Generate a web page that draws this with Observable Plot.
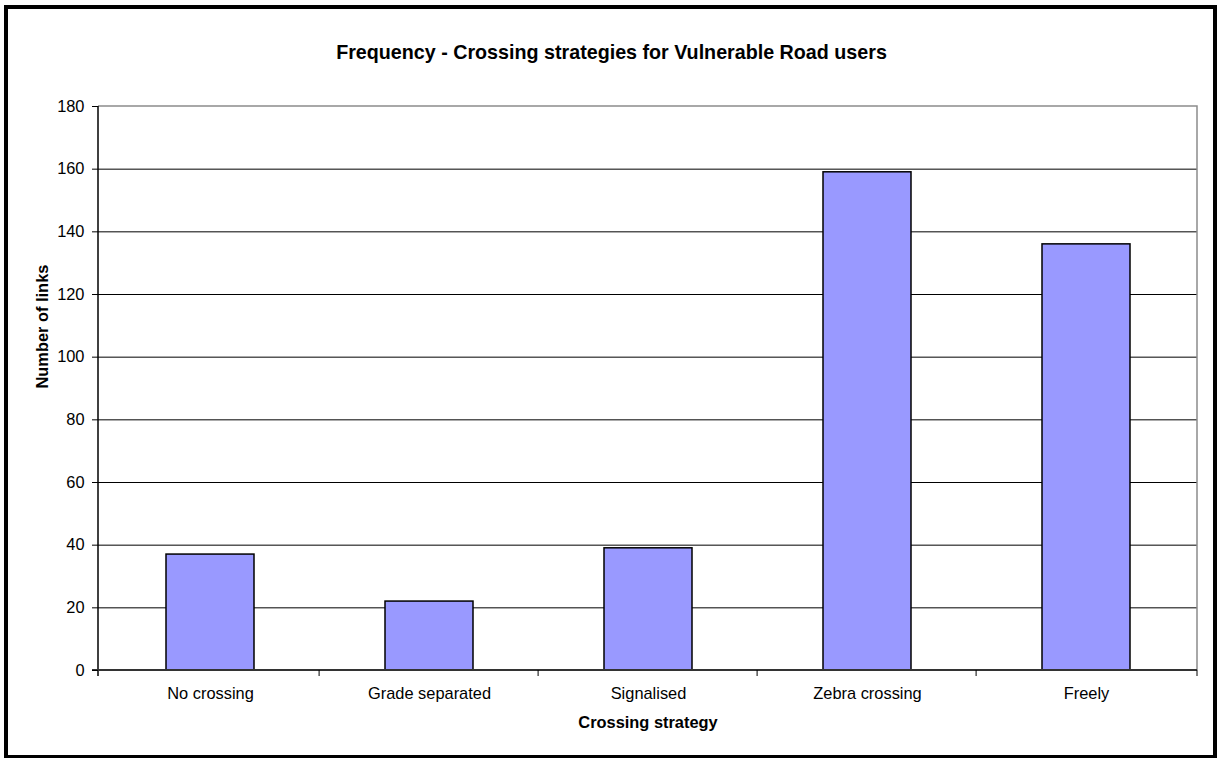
<!DOCTYPE html>
<html>
<head>
<meta charset="utf-8">
<script src="https://cdn.jsdelivr.net/npm/d3@7"></script>
<script src="https://cdn.jsdelivr.net/npm/@observablehq/plot@0.6"></script>
<style>
  html, body { margin: 0; padding: 0; background: #fff; overflow: hidden; }
  #wrap { position: relative; width: 1223px; height: 758px; }
  #frame { position: absolute; left: 4px; top: 5px; width: 1213px; height: 754px;
           border: 4px solid #000; box-sizing: border-box; pointer-events: none; }
  svg { position: absolute; left: 0; top: 0; }
</style>
</head>
<body>
<div id="wrap"><div id="frame"></div></div>
<script>
const categories = ["No crossing", "Grade separated", "Signalised", "Zebra crossing", "Freely"];
const counts = [37, 22, 39, 159, 136];
const yTicks = [0, 20, 40, 60, 80, 100, 120, 140, 160, 180];
const gridTicks = [20, 40, 60, 80, 100, 120, 140, 160];
const title = "Frequency - Crossing strategies for Vulnerable Road users";
const xTitle = "Crossing strategy";
const yTitle = "Number of links";

const data = categories.map((c, i) => ({category: c, count: counts[i]}));

const W = 1223, H = 758, mL = 98, mR = 26, mT = 106, mB = 88;
const font = "Liberation Sans, Arial, sans-serif";

// axis lines, plot-area border and category-boundary ticks, all from the scales
function axisLines(index, scales, values, dims) {
  const g = d3.create("svg:g").attr("fill", "none");
  const x0 = dims.marginLeft, x1 = dims.width - dims.marginRight;
  const yb = scales.y(0), yt = scales.y(180);
  const step = (x1 - x0) / categories.length;
  g.append("path").attr("d", `M${x0},${yt}H${x1}V${yb}`).attr("stroke", "#8c8c8c").attr("stroke-width", 1.5);
  g.append("line").attr("x1", x0).attr("x2", x0).attr("y1", yt).attr("y2", yb + 6).attr("stroke", "#000").attr("stroke-width", 1.5);
  g.append("line").attr("x1", x0 - 6).attr("x2", x1).attr("y1", yb).attr("y2", yb).attr("stroke", "#333").attr("stroke-width", 2);
  const xs = categories.map(c => scales.x(c) - (step - scales.x.bandwidth()) / 2);
  xs.push(x1);
  xs.slice(1).forEach(x => {
    g.append("line").attr("x1", x).attr("x2", x).attr("y1", yb).attr("y2", yb + 6).attr("stroke", "#000");
  });
  return g.node();
}

const chart = Plot.plot({
  width: W, height: H,
  marginLeft: mL, marginRight: mR, marginTop: mT, marginBottom: mB,
  style: {fontFamily: font, fontSize: "16.4px", color: "#000", background: "transparent"},
  x: {domain: categories, paddingInner: 0.6, paddingOuter: 0.3, label: null},
  y: {domain: [0, 180], label: null},
  marks: [
    Plot.ruleY(gridTicks, {stroke: "#000", strokeWidth: 1}),
    Plot.barY(data, {x: "category", y: "count", fill: "#9999FF", stroke: "#000", strokeWidth: 1.5}),
    axisLines,
    Plot.axisY({ticks: yTicks, tickSize: 6, tickPadding: 8, label: null, fontSize: 16.4}),
    Plot.axisX({tickSize: 0, tickPadding: 17, label: null, fontSize: 16.4}),
    Plot.text([title], {frameAnchor: "top", dy: -62, dx: -36.5, fontWeight: "bold", fontSize: 19.7, text: d => d}),
    Plot.text([xTitle], {frameAnchor: "bottom", dy: 57, fontWeight: "bold", fontSize: 16.4, text: d => d}),
    Plot.text([yTitle], {frameAnchor: "left", dx: -56, rotate: -90, fontWeight: "bold", fontSize: 16.4, text: d => d})
  ]
});
document.getElementById("wrap").insertBefore(chart, document.getElementById("frame"));
</script>
</body>
</html>
